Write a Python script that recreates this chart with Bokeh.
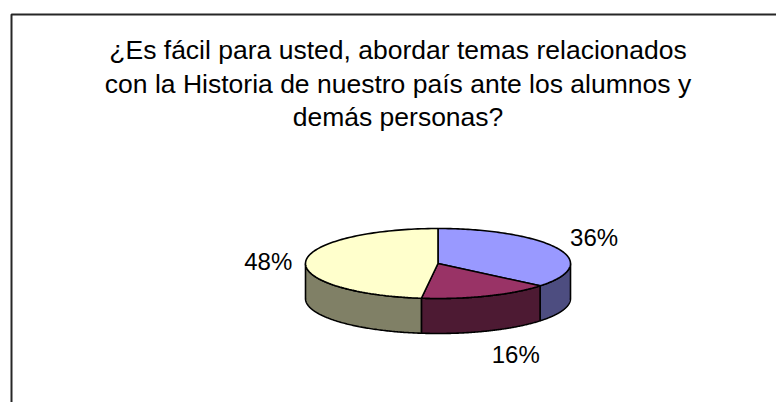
import numpy as np
from bokeh.plotting import figure
from bokeh.models import Range1d, ColumnDataSource
from bokeh.core.properties import value
from bokeh.embed import file_html
from bokeh.resources import INLINE

# ---- data ----
slice_values = [36, 16, 48]
slice_labels = ["36%", "16%", "48%"]
top_colors = ["#9999FF", "#993366", "#FFFFCC"]
side_colors = ["#4D4D80", "#4D1A33", "#808066"]
title_lines = [
    "¿Es fácil para usted, abordar temas relacionados",
    "con la Historia de nuestro país ante los alumnos y",
    "demás personas?",
]

# ---- layout constants (page pixel coordinates) ----
CX, CY, RX, RY, DEPTH = 437.5, 263.0, 132.5, 35.0, 35.0
LRX, LRY_UP, LRY_DOWN = 146.0, 30.0, 46.0
FONT = value("Liberation Sans")

p = figure(width=776, height=402, x_range=Range1d(0, 776), y_range=Range1d(402, 0),
           output_backend="svg", toolbar_location=None, min_border=0,
           x_axis_location=None, y_axis_location=None, outline_line_color=None,
           background_fill_color="white", border_fill_color="white")
p.xgrid.visible = False
p.ygrid.visible = False

# chart border (left and top edges visible)
p.line(x=[11, 11, 800], y=[420, 14, 14], line_color="#262626", line_width=2)

# title
p.text(x=[397.5] * 3, y=[49, 83, 116], text=title_lines, text_font=FONT,
       text_font_size="26.5px", text_align="center", text_baseline="middle",
       text_color="black")

total = float(sum(slice_values))
bounds = np.concatenate([[0.0], np.cumsum(slice_values)]) / total * 2 * np.pi

def ex(t):
    return CX + RX * np.sin(t)

def ey(t):
    return CY - RY * np.cos(t)

side_xs, side_ys, side_c = [], [], []
top_xs, top_ys = [], []
for i in range(len(slice_values)):
    a0, a1 = bounds[i], bounds[i + 1]
    t = np.linspace(a0, a1, 120)
    top_xs.append(np.concatenate([[CX], ex(t)]))
    top_ys.append(np.concatenate([[CY], ey(t)]))
    s0, s1 = max(a0, np.pi / 2), min(a1, 3 * np.pi / 2)
    if s1 > s0:
        ts = np.linspace(s0, s1, 120)
        xs = np.concatenate([ex(ts), ex(ts)[::-1]])
        ys = np.concatenate([ey(ts), (ey(ts) + DEPTH)[::-1]])
        side_xs.append(xs)
        side_ys.append(ys)
        side_c.append(side_colors[i])

p.patches(xs=side_xs, ys=side_ys, fill_color=side_c, line_color="black", line_width=1.6)
p.patches(xs=top_xs, ys=top_ys, fill_color=top_colors, line_color="black", line_width=1.6)

# labels
lx, ly, la, lb = [], [], [], []
for i in range(len(slice_values)):
    m = (bounds[i] + bounds[i + 1]) / 2
    s, c = np.sin(m), np.cos(m)
    x = CX + LRX * s
    if c > 0:
        y = CY - LRY_UP * c
    else:
        y = CY - LRY_DOWN * c + DEPTH
    lx.append(x)
    ly.append(y)
    la.append("left" if s > 0 else "right")
    lb.append("bottom" if c > 0.3 else ("top" if c < -0.3 else "middle"))

src = ColumnDataSource(dict(x=lx, y=ly, t=slice_labels, a=la, b=lb))
p.text(x="x", y="y", text="t", text_align="a", text_baseline="b", source=src,
       text_font=FONT, text_font_size="24px", text_color="black")

open("out.html", "w").write(file_html(p, INLINE))
